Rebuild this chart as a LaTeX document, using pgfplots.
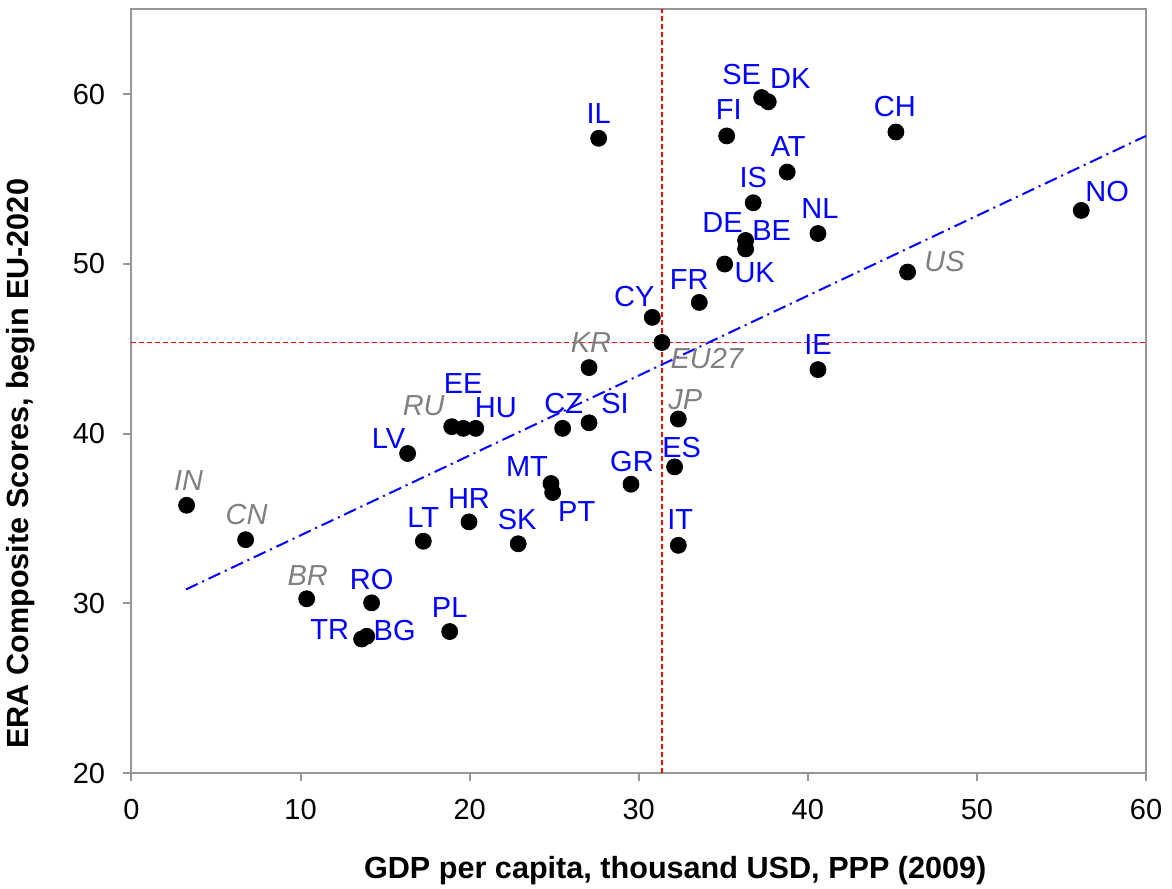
\documentclass[border=0pt]{standalone}
\usepackage{pgfplots}
\pgfplotsset{compat=1.18}
\usepackage{pgfplotstable}
\usepackage{fontspec}
\setmainfont{Liberation Sans}
\definecolor{axgray}{RGB}{150,150,150}
\definecolor{labgray}{RGB}{128,128,128}
\definecolor{ptblue}{RGB}{0,0,255}
\definecolor{lred}{RGB}{255,0,0}

\pgfplotstableread{
lab x y dx dy
IL 27.63 57.40 0 -25
FI 35.20 57.54 2 -26
SE 37.27 59.80 -20 -23
DK 37.66 59.55 22 -23
CH 45.21 57.77 -1 -25
AT 38.78 55.41 1 -26
IS 36.77 53.60 0 -25
DE 36.32 51.38 -23 -18
BE 36.32 50.88 26 -18
NL 40.60 51.79 2 -25
UK 35.08 49.99 30 9
NO 56.17 53.15 26 -19
FR 33.58 47.73 -10 -23
CY 30.80 46.85 -18 -21
IE 40.60 43.77 0 -25
EE 19.62 40.31 0 -45
HU 20.36 40.31 20 -21
CZ 25.50 40.31 1 -25
SI 27.06 40.64 26 -19
LV 16.33 38.83 -19 -15
ES 32.12 38.04 7 -19
MT 24.81 37.06 -24 -17
PT 24.91 36.53 24 19
GR 29.54 37.02 1 -23
HR 19.96 34.80 0 -23
LT 17.26 33.66 0 -24
SK 22.87 33.51 -1 -24
IT 32.34 33.42 2 -26
RO 14.20 30.03 0 -23
PL 18.82 28.34 0 -24
TR 13.61 27.90 -32 -9
BG 13.91 28.06 28 -6
}\eutab

\pgfplotstableread{
lab x y dx dy
IN 3.26 35.78 2 -25
CN 6.75 33.75 1 -25
BR 10.36 30.27 1 -23
RU 18.94 40.41 -28 -21
KR 27.06 43.89 2 -25
JP 32.34 40.86 7 -19
US 45.90 49.52 37 -11
EU27 31.37 45.37 45 16
}\othtab

\begin{document}
\begin{tikzpicture}
\useasboundingbox (-65.75pt,-57.5pt) rectangle (520.25pt,386.55pt);
\begin{axis}[
  scale only axis,
  width=507.25pt, height=381.9pt,
  xmin=0, xmax=60, ymin=20, ymax=65,
  xtick={0,10,...,60}, ytick={20,30,...,60},
  axis line style={axgray, line width=1pt},
  tick style={axgray, line width=1pt},
  tick align=outside,
  major tick length=4pt,
  xtick pos=bottom, ytick pos=left,
  /pgf/number format/assume math mode=true,
  tick label style={font=\fontsize{14.5}{17}\selectfont, text=black},
  xticklabel style={anchor=center, yshift=-14pt},
  yticklabel style={anchor=east, inner sep=0pt, xshift=-9pt},
  xlabel={GDP per capita, thousand USD, PPP (2009)},
  ylabel={ERA Composite Scores, begin EU-2020},
  xlabel style={at={([yshift=-48.5pt]axis description cs:0.536,0)}, anchor=center, font=\bfseries\fontsize{15.3}{18}\selectfont},
  ylabel style={at={([xshift=-55.25pt]axis description cs:0,0.405)}, anchor=center, font=\bfseries\fontsize{15.3}{18}\selectfont},
  clip=false,
]
\addplot[lred, line width=0.95pt, dash pattern=on 2.5pt off 1.5pt] coordinates {(31.37,20) (31.37,65)};
\addplot[lred, line width=0.95pt, dash pattern=on 2.5pt off 1.5pt] coordinates {(0,45.37) (60,45.37)};
\addplot[ptblue, line width=1pt, dash pattern=on 6.5pt off 2.5pt on 1pt off 2.5pt] coordinates {(3.22,30.82) (60,57.54)};

\addplot[only marks, mark=*, mark size=4pt, mark options={fill=black, draw=black},
  point meta=explicit symbolic,
  visualization depends on={\thisrow{dx}\as\dx},
  visualization depends on={\thisrow{dy}\as\dy},
  nodes near coords,
  nodes near coords style={anchor=center, inner sep=0pt, xshift={\dx*0.5pt}, yshift={\dy*-0.5pt}, text=ptblue, font=\fontsize{14.5}{17}\selectfont},
] table[x=x, y=y, meta=lab] {\eutab};

\addplot[only marks, mark=*, mark size=4pt, mark options={fill=black, draw=black},
  point meta=explicit symbolic,
  visualization depends on={\thisrow{dx}\as\dx},
  visualization depends on={\thisrow{dy}\as\dy},
  nodes near coords,
  nodes near coords style={anchor=center, inner sep=0pt, xshift={\dx*0.5pt}, yshift={\dy*-0.5pt}, text=labgray, font=\itshape\fontsize{14.5}{17}\selectfont},
] table[x=x, y=y, meta=lab] {\othtab};
\end{axis}
\end{tikzpicture}
\end{document}
